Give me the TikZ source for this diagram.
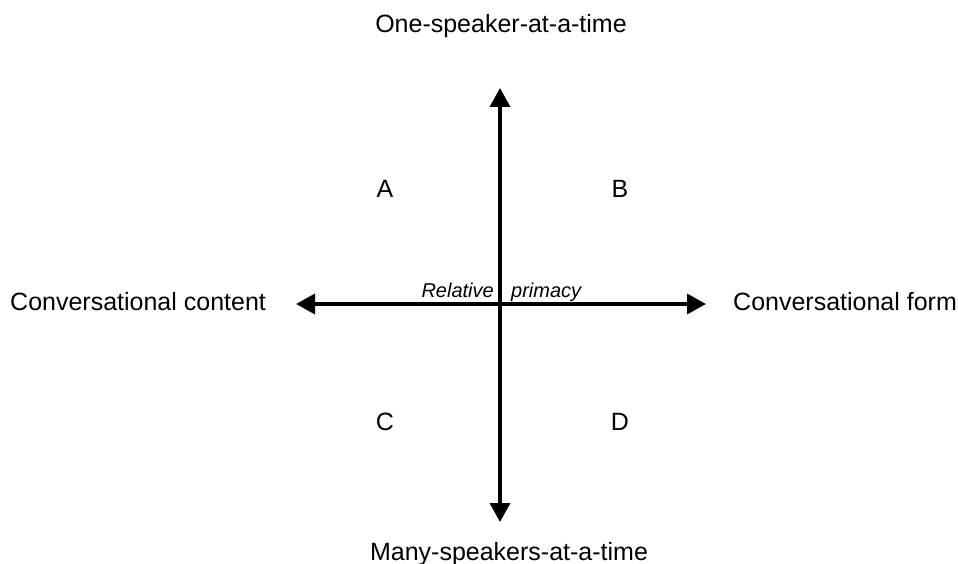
\documentclass[tikz,border=0pt]{standalone}
\usepackage{fontspec}
\setmainfont{Liberation Sans}
\usetikzlibrary{arrows.meta}
\begin{document}
\begin{tikzpicture}[x=1pt,y=-1pt,
  lbl/.style={font=\fontsize{25}{29}\selectfont, inner sep=0pt},
  ital/.style={font=\fontsize{20}{24}\selectfont\itshape, inner sep=0pt},
  axis/.style={line width=3.5pt, -{Triangle[length=19pt,width=20pt]}}]
\useasboundingbox (0,0) rectangle (958,564);
\coordinate (c) at (500,304);
\coordinate (top) at (500,88);
\coordinate (bot) at (500,522);
\coordinate (lft) at (296,304);
\coordinate (rgt) at (706,304);
\draw[axis] (c) -- (top);
\draw[axis] (c) -- (bot);
\draw[axis] (c) -- (lft);
\draw[axis] (c) -- (rgt);
\node[lbl, anchor=base] (one) at (501,33) {One-speaker-at-a-time};
\node[lbl, anchor=base] (many) at (509,560) {Many-speakers-at-a-time};
\node[lbl, anchor=west] (content) at (10,302) {Conversational content};
\node[lbl, anchor=west] (form) at (733,302) {Conversational form};
\node[ital, anchor=base east] (rel) at (494,297) {Relative};
\node[ital, anchor=base west] (prim) at (511,297) {primacy};
\node[lbl] (A) at (385,189) {A};
\node[lbl] (B) at (620,189) {B};
\node[lbl] (C) at (385,422) {C};
\node[lbl] (D) at (620,422) {D};
\end{tikzpicture}
\end{document}
